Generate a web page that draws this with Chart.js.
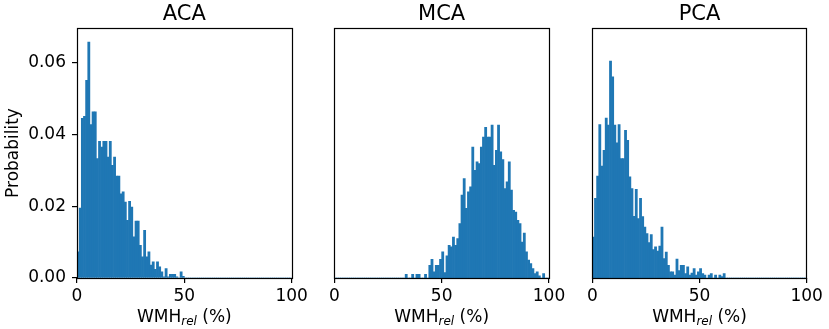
<!DOCTYPE html>
<html>
<head>
<meta charset="utf-8">
<script src="https://cdn.jsdelivr.net/npm/chart.js@4/dist/chart.umd.min.js"></script>
<style>
  html, body { margin: 0; padding: 0; background: #fff; }
  #wrap { position: relative; width: 829px; height: 329px; }
  #wrap canvas { position: absolute; left: 0; top: 0; }
</style>
</head>
<body>
<div id="wrap">
  <canvas id="aca" width="829" height="329"></canvas>
  <canvas id="mca" width="829" height="329"></canvas>
  <canvas id="pca" width="829" height="329"></canvas>
</div>
<script>
// --- data (probability per 1 % bin) ---
const panelTitles = ['ACA', 'MCA', 'PCA'];
const xTicks = [0, 50, 100];
const yTicks = [0, 0.02, 0.04, 0.06];

// bins 0..99 (bin i covers i .. i+1 %)
const acaValues = [
  0.0073, 0.0195, 0.0445, 0.0451, 0.0551, 0.0658, 0.0428, 0.0463, 0.0463, 0.0333,
  0.0381, 0.0365, 0.0381, 0.0381, 0.0337, 0.0381, 0.0314, 0.0337, 0.0284, 0.0284,
  0.0235, 0.0240, 0.0212, 0.0161, 0.0214, 0.0198, 0.0115, 0.0159, 0.0159, 0.0091,
  0.0059, 0.0133, 0.0059, 0.0073, 0.0036, 0.0045, 0.0024, 0.0045, 0.0031, 0.0017,
  0.0003, 0.0026, 0.0003, 0.0010, 0.0010, 0.0010, 0.0003, 0, 0.0017, 0.0005,
  0, 0, 0, 0, 0, 0, 0, 0, 0, 0,
  0, 0, 0, 0, 0, 0, 0, 0, 0, 0,
  0, 0, 0, 0, 0, 0, 0, 0, 0, 0,
  0, 0, 0, 0, 0, 0, 0, 0, 0, 0,
  0, 0, 0, 0, 0, 0, 0, 0, 0, 0
];
const mcaValues = [
  0, 0, 0, 0, 0, 0, 0, 0, 0, 0,
  0, 0, 0, 0, 0, 0, 0, 0, 0, 0,
  0, 0, 0, 0, 0, 0, 0, 0, 0, 0,
  0, 0, 0, 0.0010, 0, 0, 0.0010, 0, 0.0010, 0.0010,
  0, 0, 0.0010, 0, 0.0035, 0.0052, 0.0017, 0.0035, 0.0035, 0.0052,
  0.0073, 0.0015, 0.0062, 0.0091, 0.0087, 0.0114, 0.0091, 0.0110, 0.0152, 0.0231,
  0.0277, 0.0194, 0.0240, 0.0254, 0.0365, 0.0300, 0.0324, 0.0319, 0.0365, 0.0393,
  0.0420, 0.0393, 0.0393, 0.0426, 0.0314, 0.0356, 0.0426, 0.0352, 0.0330, 0.0249,
  0.0268, 0.0324, 0.0245, 0.0189, 0.0184, 0.0161, 0.0152, 0.0100, 0.0125, 0.0073,
  0.0050, 0.0040, 0.0026, 0.0012, 0.0017, 0.0006, 0, 0.0012, 0, 0
];
const pcaValues = [
  0.0114, 0.0222, 0.0284, 0.0428, 0.0312, 0.0356, 0.0446, 0.0426, 0.0605, 0.0561,
  0.0426, 0.0377, 0.0428, 0.0333, 0.0333, 0.0412, 0.0384, 0.0282, 0.0249, 0.0172,
  0.0247, 0.0166, 0.0222, 0.0171, 0.0142, 0.0124, 0.0099, 0.0121, 0.0079, 0.0087,
  0.0075, 0.0089, 0.0142, 0.0054, 0.0072, 0.0035, 0.0017, 0.0017, 0.0008, 0.0053,
  0.0021, 0.0035, 0.0035, 0.0012, 0.0031, 0.0008, 0.0014, 0.0026, 0.0008, 0.0017,
  0.0026, 0.0012, 0.0008, 0, 0.0008, 0.0012, 0, 0.0008, 0, 0.0008,
  0.0004, 0.0012, 0, 0, 0, 0, 0, 0, 0, 0,
  0, 0, 0, 0, 0, 0, 0, 0, 0, 0,
  0, 0, 0, 0, 0, 0, 0, 0, 0, 0,
  0, 0, 0, 0, 0, 0, 0, 0, 0, 0
];

const yMax = 0.0697;
const barColor = '#1f77b4';

Chart.defaults.font.family = '"DejaVu Sans", sans-serif';
Chart.defaults.font.size = 17;
Chart.defaults.color = '#000';

// frame, title and axis labels, drawn like matplotlib does
const decoPlugin = {
  id: 'deco',
  afterDraw(chart, args, opts) {
    const { ctx, chartArea: a } = chart;
    ctx.save();
    ctx.strokeStyle = '#000';
    ctx.lineWidth = 1.2;
    ctx.strokeRect(Math.round(a.left) + 0.5, Math.round(a.top) + 0.5,
      Math.round(a.right - a.left), Math.round(a.bottom - a.top));

    const cx = (a.left + a.right) / 2;
    ctx.fillStyle = '#000';
    ctx.textBaseline = 'alphabetic';
    ctx.textAlign = 'center';
    ctx.font = '21px "DejaVu Sans"';
    ctx.fillText(opts.title, cx, 20);

    // WMH_rel (%)
    const big = '17px "DejaVu Sans"', small = 'italic 12px "DejaVu Sans"';
    ctx.textAlign = 'left';
    ctx.font = big; const w1 = ctx.measureText('WMH').width;
    ctx.font = small; const w2 = ctx.measureText('rel').width;
    ctx.font = big; const w3 = ctx.measureText(' (%)').width;
    let x = cx - (w1 + w2 + w3) / 2;
    const base = 322;
    ctx.font = big; ctx.fillText('WMH', x, base); x += w1;
    ctx.font = small; ctx.fillText('rel', x, base + 3); x += w2;
    ctx.font = big; ctx.fillText(' (%)', x, base);

    if (opts.yLabel) {
      ctx.translate(18, (a.top + a.bottom) / 2);
      ctx.rotate(-Math.PI / 2);
      ctx.textAlign = 'center';
      ctx.font = big;
      ctx.fillText('Probability', 0, 0);
    }
    ctx.restore();
  }
};

function makePanel(id, values, title, left, right, showY) {
  const points = values.map((v, i) => ({ x: i + 0.5, y: v }));
  return new Chart(document.getElementById(id), {
    type: 'bar',
    data: {
      datasets: [{
        data: points,
        backgroundColor: barColor,
        borderWidth: 0,
        barPercentage: 1,
        categoryPercentage: 1
      }]
    },
    options: {
      responsive: false,
      animation: false,
      events: [],
      layout: { padding: { left: showY ? 0 : left, right: 829 - right, top: 28, bottom: 0 } },
      plugins: {
        legend: { display: false },
        tooltip: { enabled: false },
        deco: { title: title, yLabel: showY }
      },
      scales: {
        x: {
          type: 'linear',
          min: 0, max: 100,
          offset: false,
          border: { display: false },
          grid: { offset: false, drawOnChartArea: false, drawTicks: true, tickLength: 5, color: '#000', lineWidth: 1.2 },
          afterBuildTicks: s => { s.ticks = xTicks.map(v => ({ value: v })); },
          ticks: { padding: 3, maxRotation: 0, autoSkip: false, color: '#000' },
          afterFit: s => { s.height = 51; }
        },
        y: {
          type: 'linear',
          display: showY,
          min: 0, max: yMax,
          border: { display: false },
          grid: { drawOnChartArea: false, drawTicks: true, tickLength: 5, color: '#000', lineWidth: 1.2 },
          afterBuildTicks: s => { s.ticks = yTicks.map(v => ({ value: v })); },
          ticks: { padding: 6, color: '#000', callback: v => v.toFixed(2) },
          afterFit: s => { s.width = showY ? left : 0; }
        }
      }
    },
    plugins: [decoPlugin]
  });
}

makePanel('aca', acaValues, panelTitles[0], 77, 291.7, true);
makePanel('mca', mcaValues, panelTitles[1], 334.3, 549, false);
makePanel('pca', pcaValues, panelTitles[2], 592.3, 806.7, false);
</script>
</body>
</html>
